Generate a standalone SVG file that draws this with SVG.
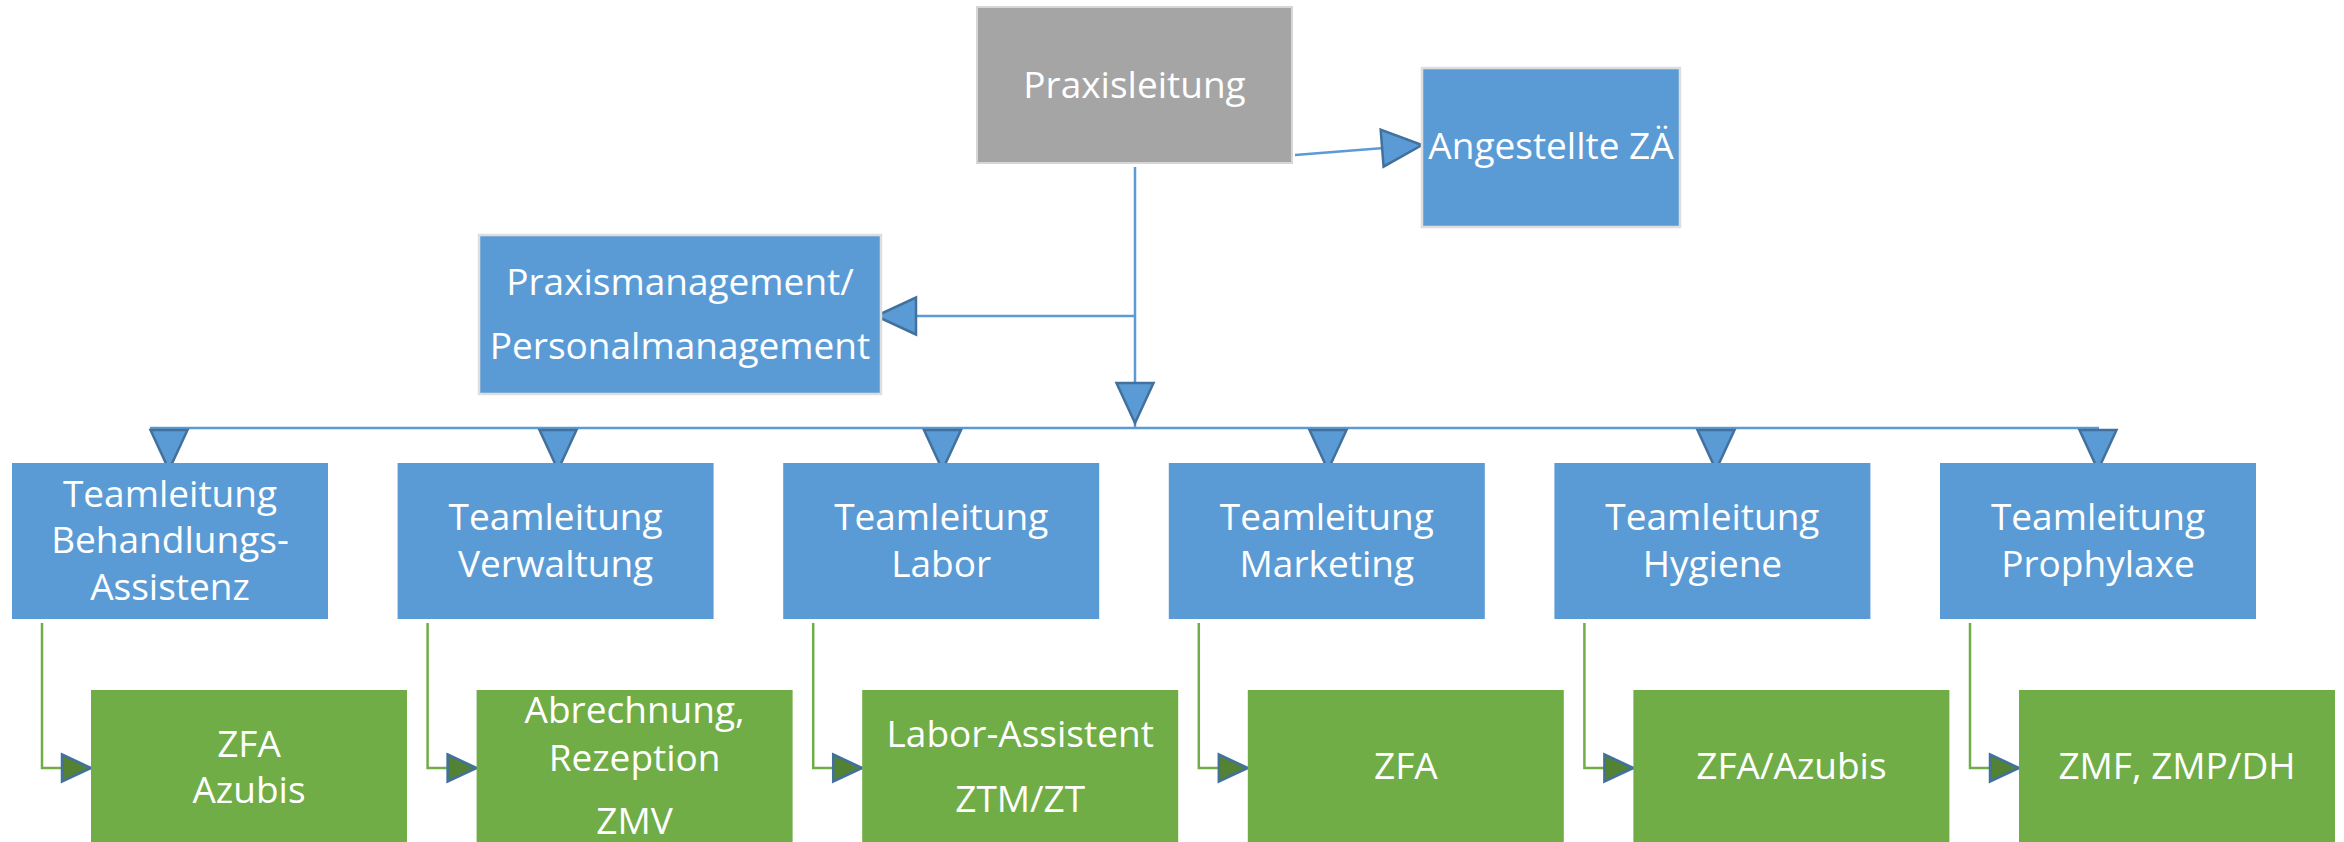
<svg xmlns="http://www.w3.org/2000/svg" width="2344" height="842" viewBox="0 0 2344 842">
<style>
.gray{fill:#a5a5a5;stroke:#d6d6d6;stroke-width:2}
.blue{fill:#5b9bd5}
.blueb{fill:#5b9bd5;stroke:#dedede;stroke-width:2.5}
.green{fill:#70ad47}
text{font-family:"Open Sans","Noto Sans","DejaVu Sans",sans-serif;font-size:37px;fill:#ffffff;text-anchor:middle}
.cb{fill:none;stroke:#5b9bd5;stroke-width:2.5}
.cg{fill:none;stroke:#70ad47;stroke-width:2.5}
</style>
<defs>
<marker id="ab" markerUnits="userSpaceOnUse" markerWidth="44" markerHeight="42" viewBox="-2 -2 44 42" refX="40" refY="18.5" orient="auto" overflow="visible">
<path d="M0,0 L40,18.5 L0,37 Z" fill="#5b9bd5" stroke="#41719c" stroke-width="2.5" stroke-linejoin="miter"/>
</marker>
<marker id="ag" markerUnits="userSpaceOnUse" markerWidth="32" markerHeight="30" viewBox="-2 -2 32 30" refX="29" refY="13.5" orient="auto" overflow="visible">
<path d="M0,0 L29,13.5 L0,27 Z" fill="#548235" stroke="#41719c" stroke-width="2.5"/>
</marker>
</defs>

<g id="connectors">
<path class="cb" d="M1295,155 L1422,145" marker-end="url(#ab)"/>
<path class="cb" d="M1135,316 L876,316" marker-end="url(#ab)"/>
<path class="cb" d="M1135,167 L1135,428"/>
<path class="cb" d="M1135,383 L1135,423" marker-end="url(#ab)"/>
<path class="cb" d="M150,428 H2099"/>
<path class="cb" d="M169,430 V470" marker-end="url(#ab)"/>
<path class="cb" d="M558,430 V470" marker-end="url(#ab)"/>
<path class="cb" d="M942.5,430 V470" marker-end="url(#ab)"/>
<path class="cb" d="M1328,430 V470" marker-end="url(#ab)"/>
<path class="cb" d="M1716,430 V470" marker-end="url(#ab)"/>
<path class="cb" d="M2098,430 V470" marker-end="url(#ab)"/>
<path class="cg" d="M42,623 V768 H91" marker-end="url(#ag)"/>
<path class="cg" d="M427.6,623 V768 H476.6" marker-end="url(#ag)"/>
<path class="cg" d="M813.2,623 V768 H862.2" marker-end="url(#ag)"/>
<path class="cg" d="M1198.8,623 V768 H1247.8" marker-end="url(#ag)"/>
<path class="cg" d="M1584.4,623 V768 H1633.4" marker-end="url(#ag)"/>
<path class="cg" d="M1970,623 V768 H2019" marker-end="url(#ag)"/>
</g>

<g id="praxisleitung">
<rect class="gray" x="977" y="7" width="315" height="156"/>
<text x="1134.5" y="98">Praxisleitung</text>
</g>
<g id="angestellte">
<rect class="blueb" x="1422" y="68" width="258" height="159"/>
<text x="1551" y="159">Angestellte ZÄ</text>
</g>
<g id="praxismanagement">
<rect class="blueb" x="479" y="235" width="402" height="159"/>
<text x="680" y="295">Praxismanagement/</text>
<text x="680" y="359">Personalmanagement</text>
</g>

<g id="tl-behandlung">
<rect class="blue" x="12" y="463" width="316" height="156"/>
<text x="170" y="507">Teamleitung</text>
<text x="170" y="553">Behandlungs-</text>
<text x="170" y="600">Assistenz</text>
</g>
<g id="tl-verwaltung">
<rect class="blue" x="397.6" y="463" width="316" height="156"/>
<text x="555.6" y="530">Teamleitung</text>
<text x="555.6" y="577">Verwaltung</text>
</g>
<g id="tl-labor">
<rect class="blue" x="783.2" y="463" width="316" height="156"/>
<text x="941.2" y="530">Teamleitung</text>
<text x="941.2" y="577">Labor</text>
</g>
<g id="tl-marketing">
<rect class="blue" x="1168.8" y="463" width="316" height="156"/>
<text x="1326.8" y="530">Teamleitung</text>
<text x="1326.8" y="577">Marketing</text>
</g>
<g id="tl-hygiene">
<rect class="blue" x="1554.4" y="463" width="316" height="156"/>
<text x="1712.4" y="530">Teamleitung</text>
<text x="1712.4" y="577">Hygiene</text>
</g>
<g id="tl-prophylaxe">
<rect class="blue" x="1940" y="463" width="316" height="156"/>
<text x="2098" y="530">Teamleitung</text>
<text x="2098" y="577">Prophylaxe</text>
</g>

<g id="g-behandlung">
<rect class="green" x="91" y="690" width="316" height="152"/>
<text x="249" y="757">ZFA</text>
<text x="249" y="803">Azubis</text>
</g>
<g id="g-verwaltung">
<rect class="green" x="476.6" y="690" width="316" height="152"/>
<text x="634.6" y="723">Abrechnung,</text>
<text x="634.6" y="771">Rezeption</text>
<text x="634.6" y="834">ZMV</text>
</g>
<g id="g-labor">
<rect class="green" x="862.2" y="690" width="316" height="152"/>
<text x="1020.2" y="747">Labor-Assistent</text>
<text x="1020.2" y="812">ZTM/ZT</text>
</g>
<g id="g-marketing">
<rect class="green" x="1247.8" y="690" width="316" height="152"/>
<text x="1405.8" y="779">ZFA</text>
</g>
<g id="g-hygiene">
<rect class="green" x="1633.4" y="690" width="316" height="152"/>
<text x="1791.4" y="779">ZFA/Azubis</text>
</g>
<g id="g-prophylaxe">
<rect class="green" x="2019" y="690" width="316" height="152"/>
<text x="2177" y="779">ZMF, ZMP/DH</text>
</g>
</svg>
